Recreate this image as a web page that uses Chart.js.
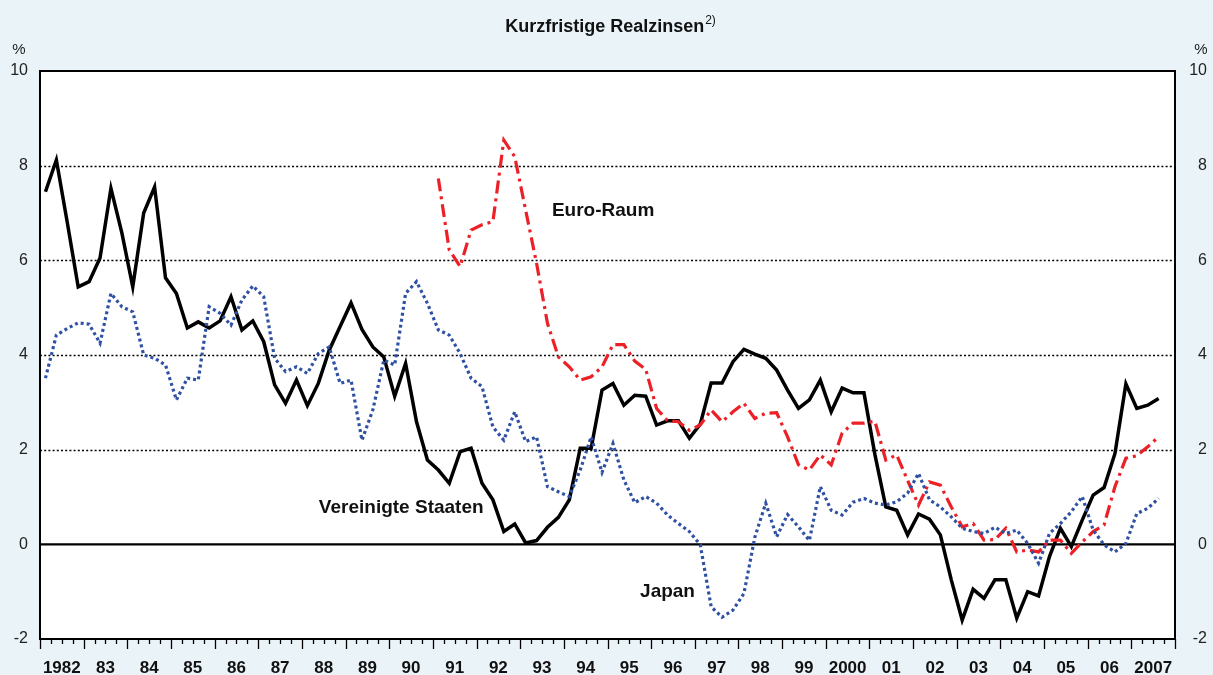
<!DOCTYPE html>
<html>
<head>
<meta charset="utf-8">
<script src="https://cdn.jsdelivr.net/npm/chart.js@4"></script>
<style>
  html, body { margin: 0; padding: 0; background: #eaf4f8; }
  canvas { display: block; }
</style>
</head>
<body>
<canvas id="chart" width="1213" height="675"></canvas>
<script>
// Jahre (Achsenbeschriftung), je 4 Quartale
const yearTicks = ['1982', '83', '84', '85', '86', '87', '88', '89', '90', '91', '92', '93', '94',
    '95', '96', '97', '98', '99', '2000', '01', '02', '03', '04', '05', '06', '2007']
const quarterNames = ['Q1', 'Q2', 'Q3', 'Q4']
const yTicks = [-2, 0, 2, 4, 6, 8, 10]
const gridValues = [2, 4, 6, 8]

// Vereinigte Staaten, 1982 Q1 - 2007 Q3
const usValues = [
    7.45, 8.12, 6.8, 5.44, 5.55, 6.05, 7.52, 6.58, 5.44, 7.0, 7.55, 5.63,
    5.3, 4.57, 4.7, 4.57, 4.72, 5.23, 4.53, 4.72, 4.28, 3.37, 2.98, 3.47,
    2.93, 3.4, 4.1, 4.6, 5.1, 4.54, 4.17, 3.96, 3.13, 3.82, 2.59, 1.78,
    1.57, 1.29, 1.96, 2.03, 1.29, 0.94, 0.27, 0.43, 0.03, 0.08, 0.36, 0.57,
    0.94, 2.03, 2.03, 3.26, 3.4, 2.94, 3.15, 3.13, 2.52, 2.61, 2.61, 2.24,
    2.54, 3.41, 3.41, 3.86, 4.12, 4.02, 3.93, 3.68, 3.26, 2.87, 3.05, 3.47,
    2.8, 3.3, 3.2, 3.2, 1.9, 0.79, 0.72, 0.2, 0.64, 0.53, 0.2, -0.75,
    -1.6, -0.95, -1.14, -0.75, -0.75, -1.56, -1.0, -1.09, -0.26, 0.34, -0.05, 0.51,
    1.04, 1.2, 1.92, 3.39, 2.87, 2.94, 3.08
]

// Euro-Raum, ab 1991 Q1
const euroStart = 36
const euroValues = [
    7.73, 6.22, 5.87, 6.64, 6.75, 6.82, 8.54, 8.19, 7.06, 5.94, 4.67, 3.96,
    3.75, 3.47, 3.54, 3.75, 4.22, 4.22, 3.87, 3.7, 2.87, 2.61, 2.59, 2.41,
    2.52, 2.84, 2.59, 2.8, 2.98, 2.66, 2.77, 2.78, 2.27, 1.68, 1.57, 1.89,
    1.68, 2.35, 2.56, 2.56, 2.6, 1.78, 1.89, 1.35, 0.83, 1.32, 1.25, 0.79,
    0.37, 0.44, 0.09, 0.1, 0.34, -0.16, -0.12, -0.16, 0.09, 0.09, -0.19, 0.05,
    0.27, 0.41, 1.22, 1.82, 1.87, 2.06, 2.27
]

// Japan, 1982 Q1 - 2007 Q3
const japanValues = [
    3.51, 4.42, 4.56, 4.68, 4.65, 4.25, 5.3, 5.02, 4.91, 4.0, 3.93, 3.79,
    3.05, 3.51, 3.47, 5.02, 4.88, 4.63, 5.16, 5.46, 5.23, 3.93, 3.65, 3.75,
    3.61, 4.03, 4.17, 3.4, 3.47, 2.2, 2.84, 3.89, 3.79, 5.3, 5.55, 5.09,
    4.53, 4.42, 4.03, 3.51, 3.33, 2.48, 2.2, 2.8, 2.17, 2.27, 1.22, 1.11,
    1.01, 1.57, 2.27, 1.52, 2.13, 1.36, 0.88, 1.01, 0.87, 0.62, 0.44, 0.27,
    -0.01, -1.32, -1.54, -1.39, -1.04, 0.15, 0.87, 0.16, 0.63, 0.37, 0.08, 1.22,
    0.72, 0.62, 0.89, 0.97, 0.87, 0.83, 0.9, 1.08, 1.5, 0.94, 0.79, 0.58,
    0.34, 0.27, 0.23, 0.36, 0.23, 0.3, 0.02, -0.4, 0.23, 0.44, 0.69, 1.01,
    0.3, -0.01, -0.16, 0.02, 0.65, 0.76, 0.97
]

// Beschriftungen der Reihen (Quartalsindex, Wert)
const seriesLabels = [
    { text: 'Euro-Raum', q: 51.1, v: 7.05 },
    { text: 'Vereinigte Staaten', q: 32.6, v: 0.77 },
    { text: 'Japan', q: 57.0, v: -1.0 }
]

const FONT = '"Liberation Sans", Arial, Helvetica, sans-serif'

// Kategorien: ein Eintrag je Quartal
const quarterLabels = []
yearTicks.forEach(y => quarterNames.forEach(q => quarterLabels.push(y + ' ' + q)))

const euroData = quarterLabels.map((_, i) =>
    i >= euroStart && i - euroStart < euroValues.length ? euroValues[i - euroStart] : null)

const frame = {
    id: 'frame',
    beforeDraw(chart) {
        const { ctx, chartArea: a } = chart
        ctx.save()
        ctx.fillStyle = '#ffffff'
        ctx.fillRect(a.left, a.top, a.right - a.left, a.bottom - a.top)
        ctx.restore()
    },
    beforeDatasetsDraw(chart) {
        const { ctx, chartArea: a, scales: { y } } = chart
        ctx.save()
        ctx.strokeStyle = '#000'
        ctx.lineWidth = 1.6
        ctx.setLineDash([2, 2.2])
        gridValues.forEach(v => {
            const py = Math.round(y.getPixelForValue(v)) + 0.5
            ctx.beginPath()
            ctx.moveTo(a.left, py)
            ctx.lineTo(a.right, py)
            ctx.stroke()
        })
        ctx.setLineDash([])
        ctx.lineWidth = 2.2
        const y0 = y.getPixelForValue(0)
        ctx.beginPath()
        ctx.moveTo(a.left, y0)
        ctx.lineTo(a.right, y0)
        ctx.stroke()
        ctx.restore()
    },
    afterDatasetsDraw(chart) {
        const { ctx, chartArea: a, scales: { x, y } } = chart
        ctx.save()
        // Rahmen
        ctx.strokeStyle = '#000'
        ctx.lineWidth = 2
        ctx.strokeRect(a.left, a.top, a.right - a.left, a.bottom - a.top)

        // Quartals- und Jahresstriche
        const n = quarterLabels.length
        const qw = (a.right - a.left) / n
        ctx.lineWidth = 1.3
        for (let k = 0; k <= n; k++) {
            const px = Math.round(a.left + k * qw) + 0.5
            ctx.beginPath()
            ctx.moveTo(px, a.bottom)
            ctx.lineTo(px, a.bottom + (k % 4 === 0 ? 10 : 5))
            ctx.stroke()
        }

        // Reihenbeschriftungen
        ctx.fillStyle = '#111'
        ctx.font = 'bold 19px ' + FONT
        ctx.textAlign = 'center'
        ctx.textBaseline = 'middle'
        seriesLabels.forEach(l => {
            const px = x.getPixelForValue(0) + l.q * qw
            ctx.fillText(l.text, px, y.getPixelForValue(l.v))
        })

        // Titel mit Fussnote
        const title = 'Kurzfristige Realzinsen'
        const sup = '2)'
        ctx.textAlign = 'left'
        ctx.textBaseline = 'alphabetic'
        ctx.font = 'bold 18px ' + FONT
        const tw = ctx.measureText(title).width
        ctx.font = '12px ' + FONT
        const sw = ctx.measureText(sup).width
        const tx = 610 - (tw + sw) / 2
        ctx.font = 'bold 18px ' + FONT
        ctx.fillText(title, tx, 32)
        ctx.font = '12px ' + FONT
        ctx.fillText(sup, tx + tw + 1, 24)

        // Einheiten
        ctx.font = '15px ' + FONT
        ctx.fillStyle = '#222'
        ctx.textAlign = 'center'
        ctx.fillText('%', 19, 54)
        ctx.fillText('%', 1201, 54)
        ctx.restore()
    }
}

const ctx = document.getElementById('chart').getContext('2d')
const chart = new Chart(ctx, {
    type: 'line',
    data: {
        labels: quarterLabels,
        datasets: [
            {
                label: 'Japan',
                data: japanValues,
                borderColor: '#2f51a3',
                borderWidth: 3.2,
                borderDash: [3, 3]
            },
            {
                label: 'Euro-Raum',
                data: euroData,
                borderColor: '#ec2027',
                borderWidth: 3.2,
                borderDash: [13, 5, 3, 5],
                spanGaps: false
            },
            {
                label: 'Vereinigte Staaten',
                data: usValues,
                borderColor: '#000000',
                borderWidth: 3.5
            }
        ]
    },
    options: {
        responsive: false,
        animation: false,
        layout: { padding: { top: 71, right: 6, left: 0, bottom: 0 } },
        plugins: { legend: { display: false }, tooltip: { enabled: false } },
        elements: {
            point: { radius: 0 },
            line: { tension: 0, fill: false, borderCapStyle: 'butt', borderJoinStyle: 'miter' }
        },
        scales: {
            x: {
                type: 'category',
                offset: true,
                grid: { display: false },
                border: { display: false },
                ticks: {
                    autoSkip: false,
                    maxRotation: 0,
                    minRotation: 0,
                    labelOffset: 1135 / quarterLabels.length / 2,
                    padding: 11,
                    color: '#111',
                    font: { family: FONT, size: 17, weight: 'bold' },
                    callback: (v, i) => (i % 4 === 1 ? yearTicks[Math.floor(i / 4)] : '')
                },
                afterFit: s => { s.height = 36 }
            },
            y: {
                position: 'left',
                min: -2,
                max: 10,
                afterBuildTicks: s => { s.ticks = yTicks.map(v => ({ value: v })) },
                grid: { display: false },
                border: { display: false },
                ticks: { padding: 4, color: '#222', font: { family: FONT, size: 16 } },
                afterFit: s => { s.width = 40 }
            },
            y2: {
                position: 'right',
                min: -2,
                max: 10,
                afterBuildTicks: s => { s.ticks = yTicks.map(v => ({ value: v })) },
                grid: { display: false },
                border: { display: false },
                ticks: { crossAlign: 'far', color: '#222', font: { family: FONT, size: 16 } },
                afterFit: s => { s.width = 32 }
            }
        }
    },
    plugins: [frame]
})
</script>
</body>
</html>
